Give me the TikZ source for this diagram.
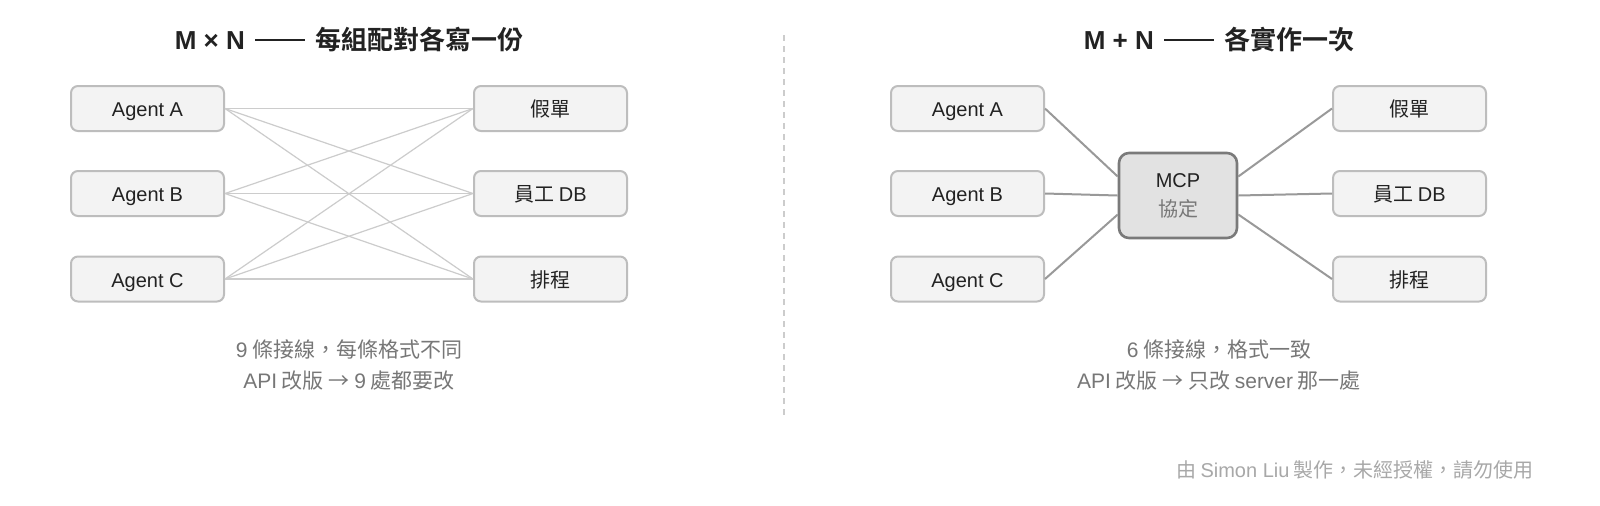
\documentclass[tikz,border=0pt]{standalone}
\usepackage{fontspec}
\setmainfont{Noto Sans CJK TC}[BoldFont={Noto Sans CJK TC Bold}]
\newfontfamily\lat{Liberation Sans}
\usetikzlibrary{positioning}
\definecolor{boxfill}{HTML}{F3F3F3}
\definecolor{boxline}{HTML}{BDBDBD}
\definecolor{hubfill}{HTML}{E2E2E2}
\definecolor{hubline}{HTML}{7A7A7A}
\definecolor{textdark}{HTML}{222222}
\definecolor{textgray}{HTML}{777777}
\definecolor{footgray}{HTML}{A8A8A8}
\definecolor{wirelight}{HTML}{CCCCCC}
\definecolor{wiredark}{HTML}{999999}
% long thin dash used in the titles
\newcommand{\titledash}{\hspace{0.4em}\rule[0.36em]{1.9em}{0.05em}\hspace{0.4em}}

\begin{document}
\begin{tikzpicture}[
        x=0.5pt, y=-0.5pt,
        box/.style={rectangle, rounded corners=3.5pt, draw=boxline, fill=boxfill, line width=1pt,
            minimum width=76.5pt, minimum height=22.5pt, text height=8pt, text depth=0pt,
            font=\fontsize{10}{12}\selectfont, text=textdark},
        hub/.style={rectangle, rounded corners=5pt, draw=hubline, fill=hubfill, line width=1.3pt,
            minimum width=59pt, minimum height=42.5pt, align=center, font=\fontsize{10}{14.5}\selectfont, text=textdark},
        title/.style={font=\bfseries\fontsize{13}{15}\selectfont, text=textdark},
        note/.style={font=\fontsize{10.5}{15.5}\selectfont, text=textgray, align=center},
        wire/.style={draw=wirelight, line width=0.6pt},
        link/.style={draw=wiredark, line width=1pt}
    ]
        \fill[white] (0,0) rectangle (1600,505);
        \useasboundingbox (0,0) rectangle (1600,505);

        % Left panel: every pair wired
        \node[title] (t_mn) at (349,40) {{\lat M × N}\titledash 每組配對各寫一份};
        \node[box] (la) at (147.5,108.5) {\lat Agent A};
        \node[box] (lb) at (147.5,193.5) {\lat Agent B};
        \node[box] (lc) at (147.5,279) {\lat Agent C};
        \node[box] (lx) at (550.5,108.5) {假單};
        \node[box] (ly) at (550.5,193.5) {員工 {\lat DB}};
        \node[box] (lz) at (550.5,279) {排程};
        \foreach \a in {la,lb,lc}
            \foreach \b in {lx,ly,lz}
                \draw[wire] (\a.east) -- (\b.west);
        \node[note] (n_mn) at (349,365) {{\lat 9} 條接線，每條格式不同\\{\lat API} 改版 → {\lat 9} 處都要改};

        % Divider
        \coordinate (d_top) at (784,35);
        \coordinate (d_bot) at (784,415);
        \draw[wirelight, line width=0.6pt, dash pattern=on 3pt off 2.5pt] (d_top) -- (d_bot);

        % Right panel: one shared protocol
        \node[title] (t_pn) at (1219,40) {{\lat M + N}\titledash 各實作一次};
        \node[box] (ra) at (967.5,108.5) {\lat Agent A};
        \node[box] (rb) at (967.5,193.5) {\lat Agent B};
        \node[box] (rc) at (967.5,279) {\lat Agent C};
        \node[hub] (mcp) at (1178,195.5) {{\lat MCP}\\\textcolor{textgray}{協定}};
        \node[box] (rx) at (1409.5,108.5) {假單};
        \node[box] (ry) at (1409.5,193.5) {員工 {\lat DB}};
        \node[box] (rz) at (1409.5,279) {排程};
        \draw[link] (ra.east) -- ([yshift=9.5pt]mcp.west);
        \draw[link] (rb.east) -- (mcp.west);
        \draw[link] (rc.east) -- ([yshift=-9.5pt]mcp.west);
        \draw[link] ([yshift=9.5pt]mcp.east) -- (rx.west);
        \draw[link] (mcp.east) -- (ry.west);
        \draw[link] ([yshift=-9.5pt]mcp.east) -- (rz.west);
        \node[note] (n_pn) at (1219,365) {{\lat 6} 條接線，格式一致\\{\lat API} 改版 → 只改 {\lat server} 那一處};

        % Footer
        \node[anchor=east, font=\fontsize{10}{12}\selectfont, text=footgray] (foot) at (1541,470) {由 {\lat Simon Liu} 製作，未經授權，請勿使用};
    \end{tikzpicture}
\end{document}
